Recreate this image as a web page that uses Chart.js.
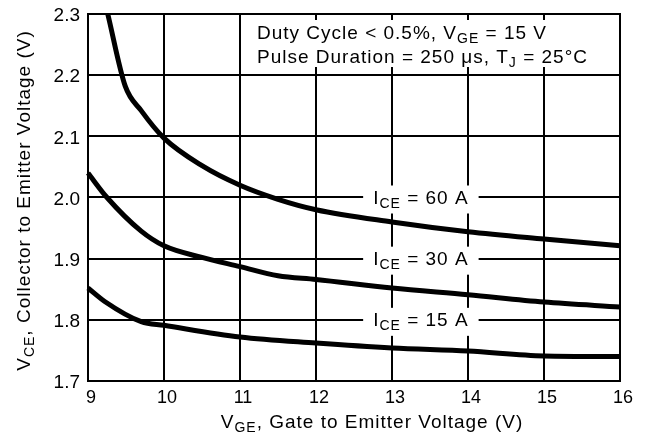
<!DOCTYPE html>
<html>
<head>
<meta charset="utf-8">
<script src="https://cdn.jsdelivr.net/npm/chart.js@4/dist/chart.umd.min.js"></script>
<style>
  html, body { margin: 0; padding: 0; background: #fff; }
  canvas { display: block; }
</style>
</head>
<body>
<canvas id="c" width="647" height="440"></canvas>
<script>
// ---- data ----
const xTicks = [9, 10, 11, 12, 13, 14, 15, 16];
const yTicks = [1.7, 1.8, 1.9, 2.0, 2.1, 2.2, 2.3];

const vge60 = [9.26, 9.49, 9.7, 10.0, 10.5, 11.0, 11.5, 12.0, 13.0, 14.0, 15.0, 16.0];
const vce60 = [2.30, 2.182, 2.142, 2.097, 2.052, 2.02, 1.997, 1.98, 1.96, 1.944, 1.932, 1.921];

const vge30 = [9.0, 9.25, 9.7, 10.0, 10.5, 11.0, 11.5, 12.0, 13.0, 14.0, 15.0, 16.0];
const vce30 = [2.04, 2.0, 1.945, 1.921, 1.902, 1.887, 1.872, 1.866, 1.852, 1.841, 1.829, 1.821];

const vge15 = [9.0, 9.22, 9.7, 10.0, 11.0, 12.0, 13.0, 14.0, 15.0, 16.0];
const vce15 = [1.852, 1.83, 1.797, 1.791, 1.772, 1.762, 1.754, 1.749, 1.741, 1.740];

const seriesCurrents = ['60 A', '30 A', '15 A'];
const labelAnchorY = [2.0, 1.9, 1.8];   // gridline each curve label sits on
const labelAnchorX = 13.38;             // centre of curve labels (V_GE)

const noteLine1 = [['Duty Cycle < 0.5%, V'], ['GE', 1], [' = 15 V']];
const noteLine2 = [['Pulse Duration = 250 \u03BCs, T'], ['J', 1], [' = 25\u00B0C']];
const xTitle = [['V'], ['GE', 1], [', Gate to Emitter Voltage (V)']];
const yTitle = [['V'], ['CE', 1], [', Collector to Emitter Voltage (V)']];

// ---- helpers ----
const FONT = '"Liberation Sans", Arial, Helvetica, sans-serif';
const MAIN = 19, SUB = 14, SPACING = '1px';

function toPts(xs, ys) { return xs.map((x, i) => ({ x: x, y: ys[i] })); }

function setFont(ctx, sub) {
  ctx.font = (sub ? SUB : MAIN) + 'px ' + FONT;
  if ('letterSpacing' in ctx) ctx.letterSpacing = SPACING;
}
function richWidth(ctx, parts) {
  let w = 0;
  parts.forEach(p => { setFont(ctx, p[1]); w += ctx.measureText(p[0]).width; });
  return w;
}
function drawRich(ctx, parts, x, y) {
  ctx.textBaseline = 'alphabetic';
  ctx.textAlign = 'left';
  parts.forEach(p => {
    setFont(ctx, p[1]);
    ctx.fillText(p[0], x, y + (p[1] ? 4 : 0));
    x += ctx.measureText(p[0]).width;
  });
}

const textPlugin = {
  id: 'textPlugin',
  beforeDatasetsDraw(chart) {
    const ctx = chart.ctx;
    const a = chart.chartArea;
    const xs = chart.scales.x, ys = chart.scales.y;
    ctx.save();
    // plot frame
    ctx.strokeStyle = '#000';
    ctx.lineWidth = 2;
    ctx.strokeRect(a.left, a.top, a.right - a.left, a.bottom - a.top);
    // white box behind the note
    ctx.fillStyle = '#fff';
    ctx.fillRect(250, 20, 346, 47);
    // curve labels
    seriesCurrents.forEach((c, i) => {
      const parts = [['I'], ['CE', 1], [' = ' + c]];
      const w = richWidth(ctx, parts);
      const cx = xs.getPixelForValue(labelAnchorX);
      const cy = ys.getPixelForValue(labelAnchorY[i]);
      ctx.fillStyle = '#fff';
      ctx.fillRect(cx - w / 2 - 10, cy - 12, w + 20, 28);
      ctx.fillStyle = '#000';
      drawRich(ctx, parts, cx - w / 2, cy + 6);
    });
    ctx.fillStyle = '#000';
    drawRich(ctx, noteLine1, 257, 39);
    drawRich(ctx, noteLine2, 257, 63);
    ctx.restore();
  },
  afterDraw(chart) {
    const ctx = chart.ctx;
    const a = chart.chartArea;
    ctx.save();
    ctx.fillStyle = '#000';
    const wx = richWidth(ctx, xTitle);
    drawRich(ctx, xTitle, (a.left + a.right) / 2 - wx / 2 + 18, 428);
    const wy = richWidth(ctx, yTitle);
    ctx.translate(30, (a.top + a.bottom) / 2 + 3);
    ctx.rotate(-Math.PI / 2);
    drawRich(ctx, yTitle, -wy / 2, 0);
    ctx.restore();
  }
};

const lineStyle = {
  borderColor: '#000',
  backgroundColor: '#000',
  borderWidth: 5,
  pointRadius: 0,
  fill: false,
  cubicInterpolationMode: 'monotone',
  clip: 6
};

new Chart(document.getElementById('c'), {
  type: 'line',
  data: {
    datasets: [
      Object.assign({ label: 'ICE = ' + seriesCurrents[0], data: toPts(vge60, vce60) }, lineStyle),
      Object.assign({ label: 'ICE = ' + seriesCurrents[1], data: toPts(vge30, vce30) }, lineStyle),
      Object.assign({ label: 'ICE = ' + seriesCurrents[2], data: toPts(vge15, vce15) }, lineStyle)
    ]
  },
  options: {
    responsive: false,
    animation: false,
    devicePixelRatio: 1,
    layout: { padding: { top: 14, right: 27, left: 0, bottom: 0 } },
    plugins: { legend: { display: false }, tooltip: { enabled: false } },
    scales: {
      x: {
        type: 'linear',
        min: xTicks[0],
        max: xTicks[xTicks.length - 1],
        afterBuildTicks: s => { s.ticks = xTicks.map(v => ({ value: v })); },
        afterFit: s => { s.height = 59; s.paddingLeft = 0; s.paddingRight = 0; },
        grid: { color: '#000', lineWidth: 2, drawTicks: false },
        border: { color: '#000', width: 2 },
        ticks: {
          color: '#000',
          font: { family: FONT, size: 18 },
          padding: 6,
          labelOffset: 3,
          maxRotation: 0,
          autoSkip: false,
          callback: v => String(v)
        }
      },
      y: {
        type: 'linear',
        min: yTicks[0],
        max: yTicks[yTicks.length - 1],
        afterBuildTicks: s => { s.ticks = yTicks.map(v => ({ value: v })); },
        afterFit: s => { s.width = 88; s.paddingTop = 0; s.paddingBottom = 0; },
        grid: { color: '#000', lineWidth: 2, drawTicks: false },
        border: { color: '#000', width: 2 },
        ticks: {
          color: '#000',
          font: { family: FONT, size: 19 },
          padding: 8,
          labelOffset: 2,
          autoSkip: false,
          callback: v => Number(v).toFixed(1)
        }
      }
    }
  },
  plugins: [textPlugin]
});
</script>
</body>
</html>
